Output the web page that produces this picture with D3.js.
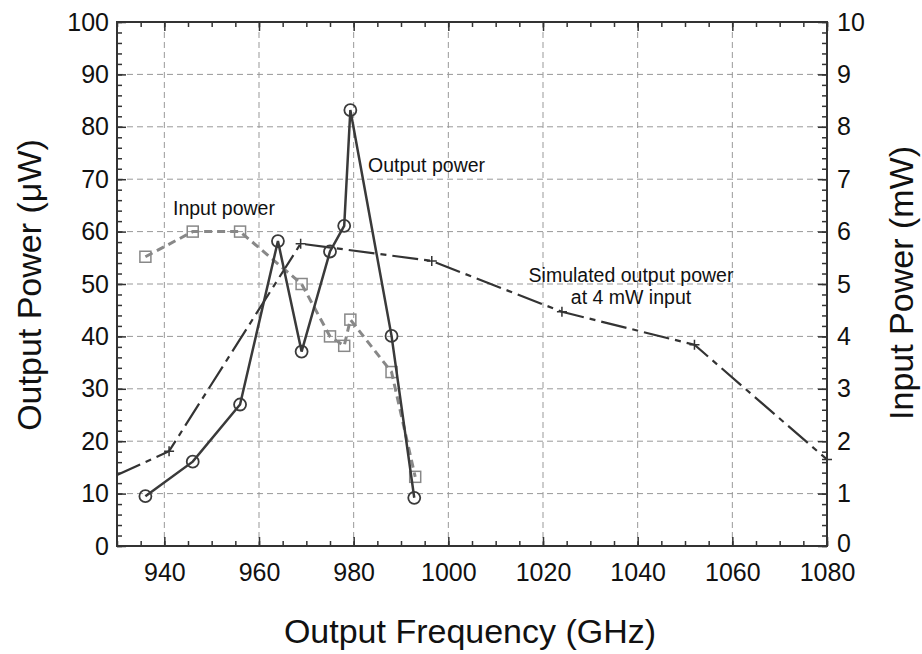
<!DOCTYPE html>
<html><head><meta charset="utf-8">
<script src="https://cdn.jsdelivr.net/npm/d3@7/dist/d3.min.js"></script>
<style>body{margin:0;background:#fff}svg{display:block}text{font-family:"Liberation Sans",Arial,Helvetica,sans-serif;fill:#111}</style>
</head><body><svg id="c" width="922" height="654"></svg>
<script>
// Output power (µW) — circles, solid
const outFreq = [936, 946, 956, 964, 969, 975, 978, 979.3, 988, 992.8];
const outPow  = [9.5, 16.1, 27, 58.2, 37.1, 56.2, 61.1, 83.2, 40.1, 9.2];
// Input power (mW) — squares, dashed
const inFreq = [936, 946, 956, 969, 975, 978, 979.3, 988, 993];
const inPow  = [5.52, 6.0, 6.0, 5.0, 4.0, 3.82, 4.32, 3.32, 1.32];
// Simulated output power at 4 mW input (µW) — plus markers, dash-dot
const simFreq = [913, 941, 968.8, 996.5, 1024, 1052, 1080];
const simPow  = [6.5, 18.1, 57.7, 54.4, 44.7, 38.4, 16.5];
const xTicks = [940, 960, 980, 1000, 1020, 1040, 1060, 1080];
const yLeftTicks = [0,10,20,30,40,50,60,70,80,90,100];
const yRightTicks = [0,1,2,3,4,5,6,7,8,9,10];

const svg = d3.select("#c");
const L = 117, R = 827, T = 22, B = 546;
const x = d3.scaleLinear().domain([930, 1080]).range([L, R]);
const yL = d3.scaleLinear().domain([0, 100]).range([B, T]);
const yR = d3.scaleLinear().domain([0, 10]).range([B, T]);

svg.append("defs").append("clipPath").attr("id","clip")
  .append("rect").attr("x",L).attr("y",T).attr("width",R-L).attr("height",B-T);

// grid
const grid = svg.append("g").attr("stroke","#999").attr("stroke-width",1).attr("stroke-dasharray","6,4");
xTicks.filter(d=>d<1080).forEach(d=>grid.append("line").attr("x1",x(d)).attr("x2",x(d)).attr("y1",T).attr("y2",B));
yLeftTicks.filter(d=>d>0&&d<100).forEach(d=>grid.append("line").attr("x1",L).attr("x2",R).attr("y1",yL(d)).attr("y2",yL(d)));

// axes with inward ticks
const ink = "#333";
const minorX = d3.range(930, 1081, 5);
const minorY = d3.range(0, 101, 2);
const minorYR = d3.range(0, 10.01, 0.2);
function styleAxis(g){ g.select(".domain").remove(); g.selectAll("line").attr("stroke",ink).attr("stroke-width",1.5); g.selectAll("text").attr("font-size",25).attr("fill","#111").attr("font-family",'"Liberation Sans",Arial,sans-serif'); }

const gxB = svg.append("g").attr("transform",`translate(0,${B})`)
  .call(d3.axisBottom(x).tickValues(minorX).tickSize(-5).tickFormat(""));
styleAxis(gxB);
const gxB2 = svg.append("g").attr("transform",`translate(0,${B})`)
  .call(d3.axisBottom(x).tickValues(xTicks).tickSize(-9).tickPadding(17).tickFormat(d3.format("d")));
styleAxis(gxB2);
const gxT = svg.append("g").attr("transform",`translate(0,${T})`)
  .call(d3.axisTop(x).tickValues(minorX).tickSize(-5).tickFormat(""));
styleAxis(gxT);
const gxT2 = svg.append("g").attr("transform",`translate(0,${T})`)
  .call(d3.axisTop(x).tickValues(xTicks).tickSize(-9).tickFormat(""));
styleAxis(gxT2);

const gyL = svg.append("g").attr("transform",`translate(${L},0)`)
  .call(d3.axisLeft(yL).tickValues(minorY).tickSize(-5).tickFormat(""));
styleAxis(gyL);
const gyL2 = svg.append("g").attr("transform",`translate(${L},0)`)
  .call(d3.axisLeft(yL).tickValues(yLeftTicks).tickSize(-9).tickPadding(8).tickFormat(d3.format("d")));
styleAxis(gyL2);
const gyR = svg.append("g").attr("transform",`translate(${R},0)`)
  .call(d3.axisRight(yR).tickValues(minorYR).tickSize(-5).tickFormat(""));
styleAxis(gyR);
const gyR2 = svg.append("g").attr("transform",`translate(${R},0)`)
  .call(d3.axisRight(yR).tickValues(yRightTicks).tickSize(-9).tickPadding(10).tickFormat(d3.format("d")));
styleAxis(gyR2);
// nudge the right-axis "0" up a touch so it clears the "1080" label below
gyR2.selectAll(".tick text").filter(d=>d===0).attr("dy","0.22em");

// frame
svg.append("rect").attr("x",L).attr("y",T).attr("width",R-L).attr("height",B-T)
  .attr("fill","none").attr("stroke",ink).attr("stroke-width",2);

const plot = svg.append("g").attr("clip-path","url(#clip)");

// simulated
const simData = simFreq.map((f,i)=>[f, simPow[i]]);
plot.append("path").datum(simData)
  .attr("d", d3.line().x(d=>x(d[0])).y(d=>yL(d[1])))
  .attr("fill","none").attr("stroke","#333").attr("stroke-width",2.2).attr("stroke-dasharray","26,6,6,6");
svg.append("g").selectAll("path").data(simData.filter(d=>d[0]>=930)).join("path")
  .attr("transform",d=>`translate(${x(d[0])},${yL(d[1])})`)
  .attr("d","M-5,0H5M0,-5V5").attr("stroke","#333").attr("stroke-width",1.5);

// input power
const inData = inFreq.map((f,i)=>[f, inPow[i]]);
plot.append("path").datum(inData)
  .attr("d", d3.line().x(d=>x(d[0])).y(d=>yR(d[1])))
  .attr("fill","none").attr("stroke","#888").attr("stroke-width",3).attr("stroke-dasharray","8,5");
plot.append("g").selectAll("rect").data(inData).join("rect")
  .attr("x",d=>x(d[0])-5.5).attr("y",d=>yR(d[1])-5.5).attr("width",11).attr("height",11)
  .attr("fill","none").attr("stroke","#888").attr("stroke-width",1.5);

// output power
const outData = outFreq.map((f,i)=>[f, outPow[i]]);
plot.append("path").datum(outData)
  .attr("d", d3.line().x(d=>x(d[0])).y(d=>yL(d[1])))
  .attr("fill","none").attr("stroke","#3a3a3a").attr("stroke-width",2.5);
plot.append("g").selectAll("circle").data(outData).join("circle")
  .attr("cx",d=>x(d[0])).attr("cy",d=>yL(d[1])).attr("r",6)
  .attr("fill","none").attr("stroke","#3a3a3a").attr("stroke-width",1.8);

// annotations
const ann = svg.append("g").attr("font-size",19.5);
ann.append("text").attr("x",173).attr("y",215).text("Input power");
ann.append("text").attr("x",368).attr("y",172).text("Output power");
ann.append("text").attr("x",631).attr("y",282).attr("text-anchor","middle").text("Simulated output power");
ann.append("text").attr("x",631).attr("y",304).attr("text-anchor","middle").text("at 4 mW input");

// axis titles
svg.append("text").attr("x",470).attr("y",643).attr("text-anchor","middle").attr("font-size",34).text("Output Frequency (GHz)");
svg.append("text").attr("transform","translate(41,285) rotate(-90)").attr("text-anchor","middle").attr("font-size",34).text("Output Power (μW)");
svg.append("text").attr("transform","translate(913,283) rotate(-90)").attr("text-anchor","middle").attr("font-size",34).text("Input Power (mW)");
</script></body></html>
